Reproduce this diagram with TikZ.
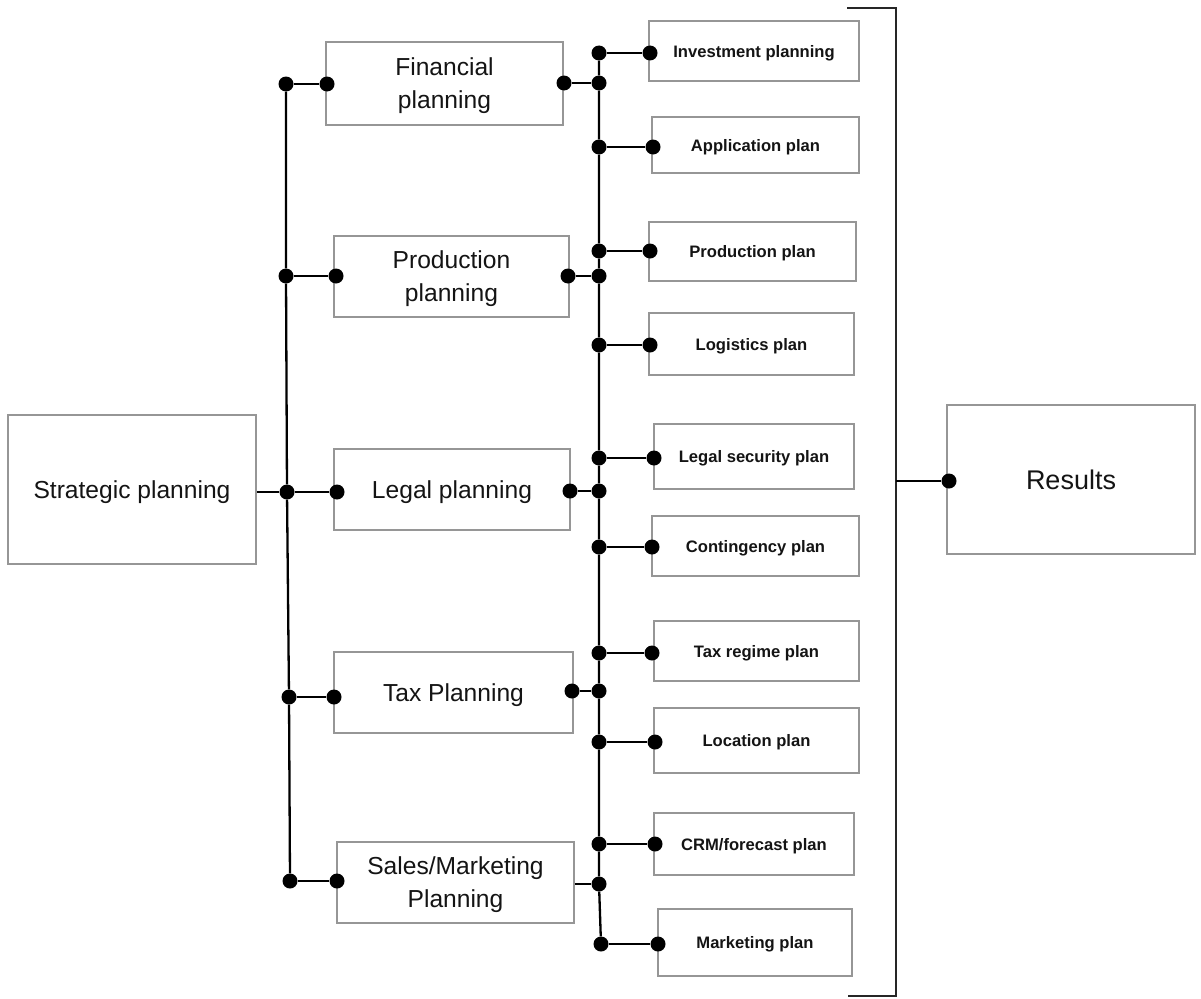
\documentclass[tikz,border=0pt]{standalone}
\usepackage{fontspec}
\setmainfont{Liberation Sans}
\definecolor{boxgray}{RGB}{150,150,150}
\definecolor{ink}{RGB}{20,20,20}
\tikzset{
  box/.style={draw=boxgray, line width=1.5pt, fill=white, align=center, inner sep=0pt,
    text=ink, text depth=0pt},
  mainbox/.style={box, font=\fontsize{24.6}{33}\selectfont},
  subbox/.style={box, font=\fontsize{16.6}{20}\selectfont\bfseries},
  resbox/.style={box, font=\fontsize{27}{32}\selectfont},
  dot/.style={circle, fill=black, inner sep=0pt, minimum size=15pt},
  wire/.style={draw=black, line width=2.3pt},
  bracketline/.style={draw=black!85, line width=2.6pt},
}
\begin{document}
\begin{tikzpicture}[x=1pt,y=-1pt]
\useasboundingbox (0,0) rectangle (1201,998);

% ---- left column: strategic planning
\node[mainbox, minimum width=248pt, minimum height=149pt] (strat) at (132,489.5) {Strategic planning};

% ---- middle column: planning areas
\node[mainbox, minimum width=237pt, minimum height=83pt] (fin)   at (444.5,83.5) {Financial\\planning};
\node[mainbox, minimum width=235pt, minimum height=81pt] (prod)  at (451.5,276.5) {Production\\planning};
\node[mainbox, minimum width=236pt, minimum height=81pt] (legal) at (452,489.5) {Legal planning};
\node[mainbox, minimum width=239pt, minimum height=81pt] (tax)   at (453.5,692.5) {Tax Planning};
\node[mainbox, minimum width=237pt, minimum height=81pt] (sales) at (455.5,882.5) {Sales/Marketing\\Planning};

% ---- right column: individual plans
\node[subbox, minimum width=210pt, minimum height=60pt] (inv)  at (754,51)     {Investment planning};
\node[subbox, minimum width=207pt, minimum height=56pt] (app)  at (755.5,145)  {Application plan};
\node[subbox, minimum width=207pt, minimum height=59pt] (pplan) at (752.5,251.5) {Production plan};
\node[subbox, minimum width=205pt, minimum height=62pt] (logi) at (751.5,344)  {Logistics plan};
\node[subbox, minimum width=200pt, minimum height=65pt] (lsec) at (754,456.5)  {Legal security plan};
\node[subbox, minimum width=207pt, minimum height=60pt] (cont) at (755.5,546)  {Contingency plan};
\node[subbox, minimum width=205pt, minimum height=60pt] (treg) at (756.5,651)  {Tax regime plan};
\node[subbox, minimum width=205pt, minimum height=65pt] (loc)  at (756.5,740.5) {Location plan};
\node[subbox, minimum width=200pt, minimum height=62pt] (crm)  at (754,844)    {CRM/forecast plan};
\node[subbox, minimum width=194pt, minimum height=67pt] (mkt)  at (755,942.5)  {Marketing plan};

% ---- results
\node[resbox, minimum width=248pt, minimum height=149pt] (res) at (1071,479.5) {Results};

% ---- left trunk junctions and box-side dots
\node[dot] (l1) at (286,84)  {};
\node[dot] (l2) at (286,276) {};
\node[dot] (l3) at (287,492) {};
\node[dot] (l4) at (289,697) {};
\node[dot] (l5) at (290,881) {};
\node[dot] (fin-in)   at (327,84)  {};
\node[dot] (prod-in)  at (336,276) {};
\node[dot] (legal-in) at (337,492) {};
\node[dot] (tax-in)   at (334,697) {};
\node[dot] (sales-in) at (337,881) {};

% ---- outputs of the planning areas
\node[dot] (fin-out)   at (564,83) {};
\node[dot] (prod-out)  at (568,276) {};
\node[dot] (legal-out) at (570,491) {};
\node[dot] (tax-out)   at (572,691) {};

% ---- right trunk junctions
\node[dot] (r1)  at (599,53)  {};
\node[dot] (rf)  at (599,83)  {};
\node[dot] (r2)  at (599,147) {};
\node[dot] (r3)  at (599,251) {};
\node[dot] (rp)  at (599,276) {};
\node[dot] (r4)  at (599,345) {};
\node[dot] (r5)  at (599,458) {};
\node[dot] (rg)  at (599,491) {};
\node[dot] (r6)  at (599,547) {};
\node[dot] (r7)  at (599,653) {};
\node[dot] (rt)  at (599,691) {};
\node[dot] (r8)  at (599,742) {};
\node[dot] (r9)  at (599,844) {};
\node[dot] (rs)  at (599,884) {};
\node[dot] (r10) at (601,944) {};

% ---- inputs of the individual plans
\node[dot] (inv-in)   at (650,53)  {};
\node[dot] (app-in)   at (653,147) {};
\node[dot] (pplan-in) at (650,251) {};
\node[dot] (logi-in)  at (650,345) {};
\node[dot] (lsec-in)  at (654,458) {};
\node[dot] (cont-in)  at (652,547) {};
\node[dot] (treg-in)  at (652,653) {};
\node[dot] (loc-in)   at (655,742) {};
\node[dot] (crm-in)   at (655,844) {};
\node[dot] (mkt-in)   at (658,944) {};

% ---- results input
\node[dot] (res-in) at (949,481) {};

% ---- connectors
\draw[wire] (strat.east |- l3) -- (l3);
\draw[wire] (l1) -- (l2) -- (l3) -- (l4) -- (l5);
\draw[wire] (l1) -- (fin-in);
\draw[wire] (l2) -- (prod-in);
\draw[wire] (l3) -- (legal-in);
\draw[wire] (l4) -- (tax-in);
\draw[wire] (l5) -- (sales-in);

\draw[wire] (fin-out) -- (rf);
\draw[wire] (prod-out) -- (rp);
\draw[wire] (legal-out) -- (rg);
\draw[wire] (tax-out) -- (rt);
\draw[wire] (sales.east |- rs) -- (rs);

\draw[wire] (r1) -- (rf) -- (r2) -- (r3) -- (rp) -- (r4) -- (r5) -- (rg) -- (r6)
            -- (r7) -- (rt) -- (r8) -- (r9) -- (rs) -- (r10);
\draw[wire] (r1) -- (inv-in);
\draw[wire] (r2) -- (app-in);
\draw[wire] (r3) -- (pplan-in);
\draw[wire] (r4) -- (logi-in);
\draw[wire] (r5) -- (lsec-in);
\draw[wire] (r6) -- (cont-in);
\draw[wire] (r7) -- (treg-in);
\draw[wire] (r8) -- (loc-in);
\draw[wire] (r9) -- (crm-in);
\draw[wire] (r10) -- (mkt-in);

% ---- bracket collecting all plans
\coordinate (btop) at (847,8);
\coordinate (bnw)  at (896,8);
\coordinate (bsw)  at (896,996);
\coordinate (bbot) at (848,996);
\coordinate (bmid) at (896,481);
\draw[bracketline] (btop) -- (bnw) -- (bsw) -- (bbot);
\draw[wire] (bmid) -- (res-in);
\end{tikzpicture}
\end{document}
